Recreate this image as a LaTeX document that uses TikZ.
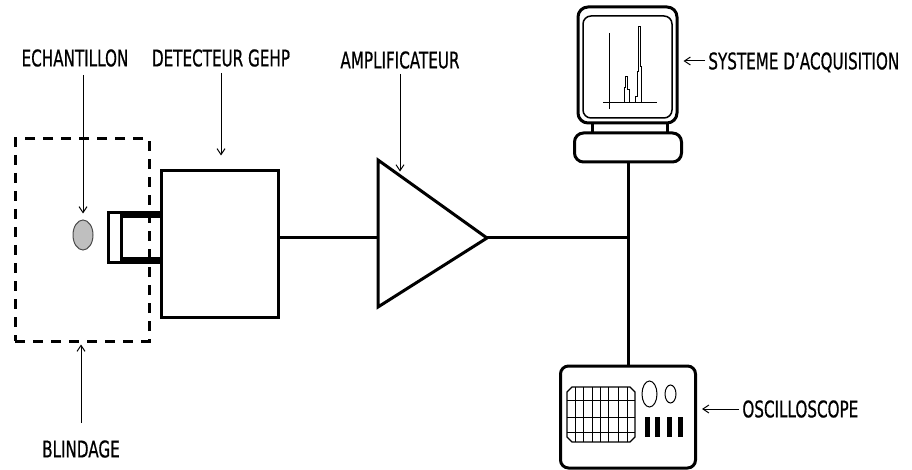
\documentclass[tikz,border=0pt]{standalone}
\usepackage{fontspec}
\setmainfont{DejaVu Sans}[FakeStretch=0.66,FakeBold=0.6]
\usetikzlibrary{arrows.meta,calc,shapes.geometric}

\tikzset{every picture/.style={line width=0.75pt}}
\tikzset{
  wire/.style={line width=3pt},
  thinline/.style={line width=1pt},
  pointer/.style={line width=1pt,-{Straight Barb[length=6pt,width=8pt]}},
  caption/.style={font=\fontsize{23}{23}\selectfont,inner sep=3pt,text height=16.8pt,text depth=0pt},
  unitbox/.style={draw,wire,inner sep=0pt},
}

\begin{document}
\begin{tikzpicture}[x=1pt,y=1pt,yscale=-1,xscale=1]
\useasboundingbox (0,0) rectangle (912,470);

%Shape: Rectangle [shielding]
\node [unitbox,dash pattern={on 10pt off 8pt},minimum width=134,minimum height=202] (shield) at (82,240) {};
%Shape: Ellipse [sample]
\node [ellipse,draw=black!70,fill=black!25,thinline,minimum width=20,minimum height=30,inner sep=0pt] (sample) at (83,235) {};

%Shape: Rectangle [detector]
\node [unitbox,minimum width=117,minimum height=146] (detector) at (219.5,244) {};
% crystal holder
\draw [wire] (160,213) -- (108,213) -- (108,262) -- (160,262) ;
\draw [wire] (121,213) -- (121,262) ;
\fill (121,213) rectangle (160,218) ;
\fill (121,257) rectangle (160,262) ;

%Shape: Triangle [amplifier]
\coordinate (amp top) at (378,160);
\coordinate (amp bot) at (378,307);
\coordinate (amp tip) at (487,238);
\coordinate (amp in) at (amp top |- amp tip);
\coordinate (amp hit) at ($(amp top)!0.2!(amp tip)$);
\draw [wire,line join=miter] (amp top) -- (amp tip) -- (amp bot) -- cycle ;

%Shape: Monitor [acquisition]
\node [unitbox,rounded corners=10pt,minimum width=99,minimum height=116] (pccase) at (627.5,65) {};
\node [draw,line width=1.5pt,rounded corners=8pt,minimum width=89,minimum height=102,inner sep=0pt] (pcscreen) at (627.5,67) {};
\draw [wire] (592,123) -- (592,133) ;
\draw [wire] (667,123) -- (667,133) ;
\node [unitbox,rounded corners=9pt,minimum width=107,minimum height=29] (pcbase) at (628,147.5) {};
% spectrum
\draw [thinline] (609,33) -- (609,109) ;
\draw [thinline] (603,103) -- (657,103) ;
\draw [thinline] (624,103) -- (624,88) -- (625.5,88) -- (625.5,77) -- (627,77) -- (627,90) -- (629,90) -- (629,103) ;
\draw [thinline] (635,103) -- (635,97) -- (637,97) -- (637,72) -- (638,72) -- (638,27) -- (640,27) -- (640,67) -- (641,67) -- (641,103) ;

%Shape: Oscilloscope
\node [unitbox,rounded corners=8pt,minimum width=135,minimum height=102] (scope) at (628,417) {};
\draw [line width=1.2pt] (572,387) -- (630,387) -- (635,392) -- (635,437) -- (630,442) -- (572,442) -- (567,437) -- (567,392) -- cycle ;
\foreach \gx in {575,583,592,600,608,618,627}
  \draw [thinline] (\gx,387) -- (\gx,442) ;
\foreach \gy in {400,417,432}
  \draw [thinline] (567,\gy) -- (635,\gy) ;
\draw [thinline] (649.5,394) ellipse [x radius=7.5,y radius=13] ;
\draw [thinline] (670.5,394) ellipse [x radius=5.5,y radius=9] ;
\foreach \bx in {647.5,657.5,669.5,680.5}
  \fill (\bx-2.5,417) rectangle (\bx+2.5,437) ;

%Straight Lines [signal chain]
\draw [wire] (detector.east |- amp in) -- (amp in) ;
\draw [wire] (amp tip) -- (amp tip -| pcbase.south) ;
\draw [wire] (pcbase.south) -- (scope.north) ;

% Text Node
\node [caption] (echlbl) at (75,58) {ECHANTILLON};
% Text Node
\node [caption] (detlbl) at (221,58) {DETECTEUR GEHP};
% Text Node
\node [caption] (amplbl) at (400,60) {AMPLIFICATEUR};
% Text Node
\node [caption,anchor=west] (syslbl) at (705,61) {SYSTEME D’ACQUISITION};
% Text Node
\node [caption,anchor=west] (osclbl) at (739,409) {OSCILLOSCOPE};
% Text Node
\node [caption] (blilbl) at (81,449) {BLINDAGE};

% pointers
\draw [pointer,shorten <=5pt,shorten >=6pt] (echlbl.south -| sample.north) -- (sample.north) ;
\draw [pointer,shorten <=3pt,shorten >=14pt] (detlbl.south) -- (detlbl.south |- detector.north) ;
\draw [pointer,shorten <=2pt,shorten >=4pt] (amplbl.south) -- (amplbl.south |- amp hit) ;
\draw [pointer,shorten >=5pt] (syslbl.west) -- (syslbl.west -| pccase.east) ;
\draw [pointer,shorten >=5pt] (osclbl.west) -- (osclbl.west -| scope.east) ;
\draw [pointer,shorten <=14pt,shorten >=2pt] (blilbl.north) -- (blilbl.north |- shield.south) ;

\end{tikzpicture}
\end{document}
